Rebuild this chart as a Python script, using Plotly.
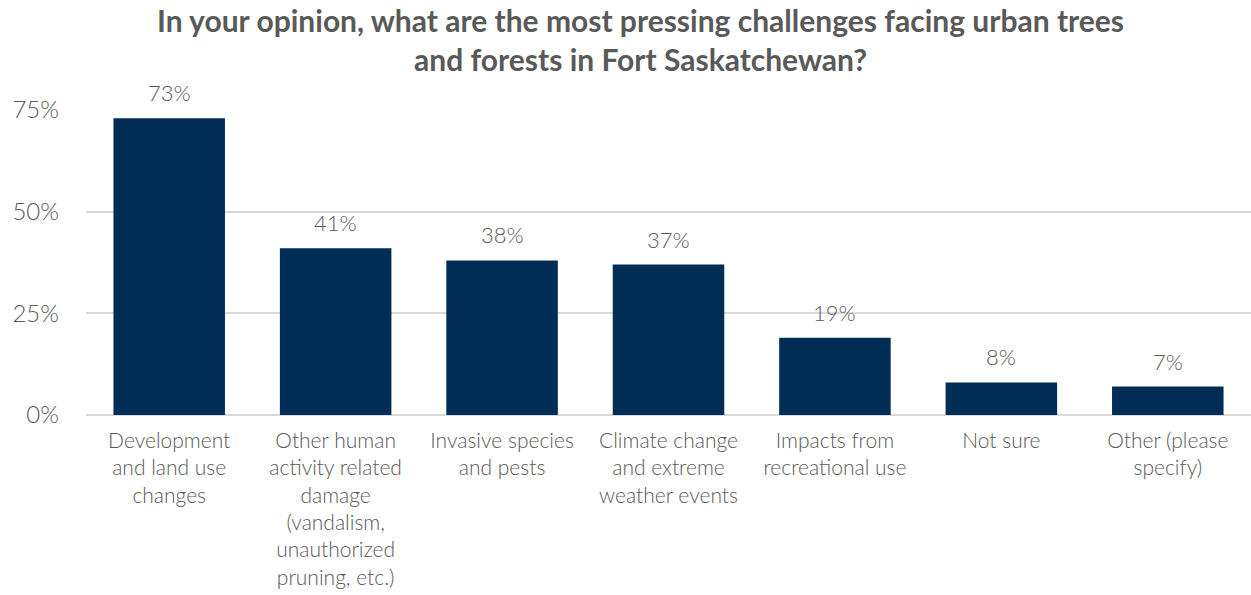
import plotly.graph_objects as go

categories = [
    "Development<br>and land use<br>changes",
    "Other human<br>activity related<br>damage<br>(vandalism,<br>unauthorized<br>pruning, etc.)",
    "Invasive species<br>and pests",
    "Climate change<br>and extreme<br>weather events",
    "Impacts from<br>recreational use",
    "Not sure",
    "Other (please<br>specify)",
]
values = [73, 41, 38, 37, 19, 8, 7]
y_ticks = [0, 25, 50, 75]

bar_color = "#002D56"
text_color = "#595959"
cat_font = dict(family="Lato", size=21, color=text_color, weight=300)
ytick_font = dict(family="Lato", size=24, color=text_color, weight=300)
label_font = dict(family="Lato", size=22, color=text_color, weight=300)

fig = go.Figure(
    go.Bar(
        x=categories,
        y=values,
        marker=dict(color=bar_color, line=dict(width=0)),
        width=0.67,
    )
)

# value labels above each bar
for cat, v in zip(categories, values):
    fig.add_annotation(
        x=cat,
        y=v,
        text=f"{v}%",
        showarrow=False,
        xanchor="center",
        yanchor="bottom",
        yshift=10,
        font=label_font,
    )

fig.update_layout(
    width=1251,
    height=595,
    margin=dict(l=86, r=0, t=110, b=180),
    paper_bgcolor="white",
    plot_bgcolor="white",
    showlegend=False,
    title=dict(
        text="In your opinion, what are the most pressing challenges facing urban trees<br>and forests in Fort Saskatchewan?",
        x=0.512,
        xanchor="center",
        yref="container",
        y=0.947,
        yanchor="middle",
        font=dict(family="Lato", size=30, color=text_color, weight=700),
    ),
    xaxis=dict(
        tickfont=cat_font,
        showgrid=False,
        showline=False,
        ticks="",
        ticklabelstandoff=11,
        automargin=False,
    ),
    yaxis=dict(
        range=[0, 75],
        tickvals=y_ticks,
        ticktext=[f"{t}%" for t in y_ticks],
        tickfont=ytick_font,
        showgrid=True,
        gridcolor="#D9D9D9",
        gridwidth=1.5,
        zeroline=True,
        zerolinecolor="#D9D9D9",
        zerolinewidth=1.5,
        ticks="",
        ticklabelstandoff=26,
        automargin=False,
    ),
)

fig.write_html("out.html")
